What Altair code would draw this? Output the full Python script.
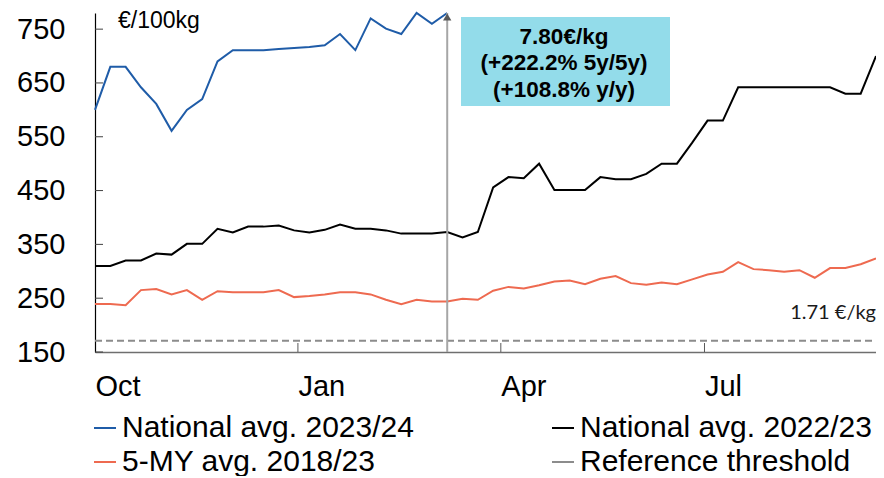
import altair as alt
import pandas as pd

# ---------------- data ----------------
weeks = list(range(52))
national_2023_24 = [600, 680, 680, 642, 611, 561, 600, 620, 690, 711, 711, 711,
                    713, 715, 717, 720, 741, 711, 770, 751, 741, 780, 760, 780]
national_2022_23 = [310, 310, 320, 320, 333, 331, 351, 351, 379, 372,
                    383, 383, 385, 376, 372, 377, 387, 379, 379, 376,
                    370, 370, 370, 373, 363, 373, 456, 475, 473, 500,
                    451, 451, 451, 475, 471, 471, 481, 500, 500, 539,
                    580, 580, 642, 642, 642, 642, 642, 642, 642, 630,
                    630, 700]
five_my_avg = [239, 239, 237, 265, 267, 257, 265, 247, 263, 261,
               261, 261, 265, 252, 254, 257, 261, 261, 257, 247,
               239, 247, 244, 244, 249, 247, 264, 271, 268, 274,
               281, 283, 276, 286, 291, 278, 275, 279, 276, 285,
               294, 299, 317, 304, 302, 299, 302, 288, 306, 306,
               313, 324]
threshold_value = 171
threshold_weeks = [0, 51]

series_names = ["National avg. 2023/24", "National avg. 2022/23",
                "5-MY avg. 2018/23", "Reference threshold"]
series_colors = ["#1F5CA8", "#000000", "#EE6A50", "#8C8C8C"]

y_ticks = [150, 250, 350, 450, 550, 650, 750]
x_tick_pos = [0, 13.25, 26.5, 39.8]
x_tick_labels = ["Oct", "Jan", "Apr", "Jul"]

annotation_week = 23
annotation_top = 780
annotation_lines = ["7.80€/kg", "(+222.2% 5y/5y)", "(+108.8% y/y)"]
unit_label = "€/100kg"
threshold_label = "1.71 €/kg"

# ---------------- tables ----------------
rows = []
for w, v in zip(weeks, national_2023_24):
    rows.append({"week": w, "value": v, "series": series_names[0]})
for w, v in zip(weeks, national_2022_23):
    rows.append({"week": w, "value": v, "series": series_names[1]})
for w, v in zip(weeks, five_my_avg):
    rows.append({"week": w, "value": v, "series": series_names[2]})
df = pd.DataFrame(rows)
thr_df = pd.DataFrame({"week": threshold_weeks,
                       "value": [threshold_value] * len(threshold_weeks)})

x_scale = alt.Scale(domain=[0, 51], nice=False, zero=False)
y_scale = alt.Scale(domain=[150, 780], nice=False, zero=False)
color_scale = alt.Scale(domain=series_names, range=series_colors)

pos_arr = "[" + ",".join(str(p) for p in x_tick_pos) + "]"
lab_arr = "[" + ",".join("'" + l + "'" for l in x_tick_labels) + "]"
label_expr = f"{lab_arr}[indexof({pos_arr}, datum.value)]"

FONT = "Liberation Sans"

x_axis = alt.Axis(values=x_tick_pos, labelExpr=label_expr, ticks=False,
                  grid=False, domainColor="#6F6F6F", domainWidth=1.5,
                  labelFontSize=29, labelAlign="left", labelPadding=20,
                  labelFlush=False, labelOverlap=False, labelBound=False,
                  title=None)
y_axis = alt.Axis(values=y_ticks, ticks=False, grid=False,
                  domainColor="#000000", domainWidth=1.2,
                  labelFontSize=29, labelPadding=30, title=None)
legend = alt.Legend(orient="none", legendX=-5, legendY=400,
                    columns=2, direction="horizontal",
                    symbolType="stroke",
                    symbolSize=484, symbolStrokeWidth=2,
                    labelFontSize=30, labelFont=FONT,
                    labelLimit=600, labelOffset=2,
                    columnPadding=134, rowPadding=4,
                    title=None, padding=0)

lines = alt.Chart(df).mark_line(strokeWidth=2).encode(
    x=alt.X("week:Q", scale=x_scale, axis=x_axis),
    y=alt.Y("value:Q", scale=y_scale, axis=y_axis),
    color=alt.Color("series:N", scale=color_scale, legend=legend),
)

thr_line = alt.Chart(thr_df).mark_line(strokeWidth=2, strokeDash=[7, 4],
                                       color=series_colors[3]).encode(
    x=alt.X("week:Q", scale=x_scale, axis=x_axis),
    y=alt.Y("value:Q", scale=y_scale, axis=y_axis),
)

ytick_df = pd.DataFrame({"value": y_ticks})
ytick_marks = alt.Chart(ytick_df).mark_rule(color="#404040", strokeWidth=1).encode(
    y=alt.Y("value:Q", scale=y_scale, axis=y_axis),
    x=alt.value(0), x2=alt.value(8),
)

xtick_df = pd.DataFrame({"week": x_tick_pos[1:]})
xtick_marks = alt.Chart(xtick_df).mark_rule(color="#595959", strokeWidth=1).encode(
    x=alt.X("week:Q", scale=x_scale, axis=x_axis),
    y=alt.value(339), y2=alt.value(330),
)

arrow_df = pd.DataFrame({"week": [annotation_week], "value": [150], "top": [annotation_top]})
arrow_line = alt.Chart(arrow_df).mark_rule(color="#A6A6A6", strokeWidth=2).encode(
    x=alt.X("week:Q", scale=x_scale, axis=x_axis),
    y=alt.Y("value:Q", scale=y_scale, axis=y_axis),
    y2="top:Q",
)
arrow_head = alt.Chart(arrow_df).mark_point(shape="triangle-up", filled=True,
                                             size=70, color="#595959",
                                             opacity=1, yOffset=4).encode(
    x=alt.X("week:Q", scale=x_scale, axis=x_axis),
    y=alt.Y("top:Q", scale=y_scale, axis=y_axis),
)

one = pd.DataFrame({"k": [0]})
box = alt.Chart(one).mark_rect(color="#93DCEA").encode(
    x=alt.value(366), x2=alt.value(575), y=alt.value(4), y2=alt.value(93),
)
box_text = alt.Chart(one).mark_text(font=FONT, fontSize=22.5, fontWeight="bold",
                                     align="center", baseline="middle",
                                     lineHeight=26.5, color="#000000").encode(
    x=alt.value(469), y=alt.value(23.5), text=alt.value(annotation_lines),
)
unit_text = alt.Chart(one).mark_text(font=FONT, fontSize=23, align="left",
                                      baseline="middle", color="#000000").encode(
    x=alt.value(23), y=alt.value(7.5), text=alt.value(unit_label),
)
thr_text = alt.Chart(one).mark_text(font="Lato", fontSize=20, align="right",
                                     baseline="middle", color="#1A1A1A").encode(
    x=alt.value(781), y=alt.value(300), text=alt.value(threshold_label),
)

chart = alt.layer(
    lines, thr_line, ytick_marks, xtick_marks, arrow_line, arrow_head,
    box, box_text, unit_text, thr_text,
).properties(
    width=781, height=339,
    autosize=alt.AutoSizeParams(type="none"),
    padding={"left": 87, "top": 5, "right": 0, "bottom": 124},
).configure_view(stroke=None).configure_axis(
    labelFont=FONT, labelColor="#000000"
)

chart.save("out.html", embed_options={"renderer": "svg", "actions": False})
